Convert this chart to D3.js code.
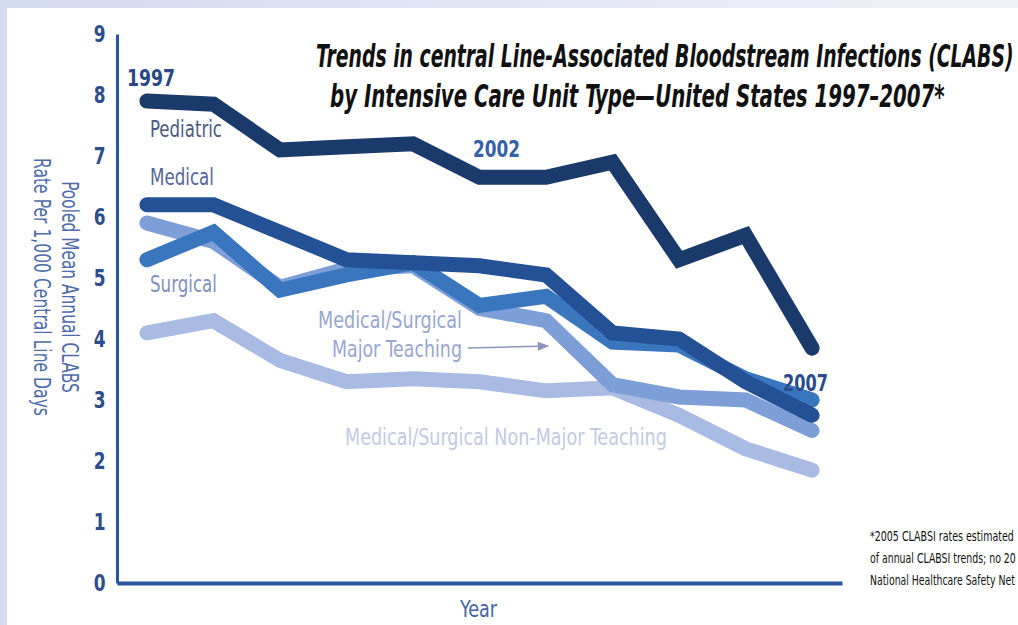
<!DOCTYPE html>
<html>
<head>
<meta charset="utf-8">
<script src="https://cdn.jsdelivr.net/npm/d3@7"></script>
<style>
  body { margin: 0; background: #ffffff; }
  svg { display: block; }
  .narrow { font-family: "Liberation Sans Narrow", "DejaVu Sans Condensed", "Roboto", sans-serif; }
</style>
</head>
<body>
<div id="chart"></div>
<script>
const years = [1997, 1998, 1999, 2000, 2001, 2002, 2003, 2004, 2005, 2006, 2007];
const pediatric = [7.9, 7.85, 7.1, 7.15, 7.2, 6.65, 6.65, 6.9, 5.3, 5.7, 3.85];
const medical = [6.2, 6.2, 5.75, 5.3, 5.25, 5.2, 5.05, 4.1, 4.0, 3.3, 2.75];
const surgical = [5.3, 5.75, 4.8, 5.05, 5.25, 4.55, 4.7, 3.95, 3.9, 3.35, 3.0];
const majorTeaching = [5.9, 5.6, 4.85, 5.15, 5.2, 4.5, 4.3, 3.25, 3.05, 3.0, 2.5];
const nonMajorTeaching = [4.1, 4.3, 3.65, 3.3, 3.35, 3.3, 3.15, 3.2, 2.75, 2.2, 1.85];
const yTicks = [0, 1, 2, 3, 4, 5, 6, 7, 8, 9];

const series = [
    { name: "Medical/Surgical Non-Major Teaching", values: nonMajorTeaching, color: "#a9bbe2" },
    { name: "Medical/Surgical Major Teaching", values: majorTeaching, color: "#7e9ed8" },
    { name: "Surgical", values: surgical, color: "#3a76be" },
    { name: "Medical", values: medical, color: "#245195" },
    { name: "Pediatric", values: pediatric, color: "#1b3a6c" }
];

const W = 1018, H = 625;
const margin = { top: 34, right: 176, bottom: 42, left: 117 };

const svg = d3.select("#chart")
    .append("svg")
    .attr("width", W)
    .attr("height", H);

// squeeze a text horizontally so it spans the given width (the source uses a condensed face)
function fitWidth(sel, width) {
    sel.each(function() {
        const w = this.getComputedTextLength();
        const x0 = +this.getAttribute("x") || 0;
        const y0 = +this.getAttribute("y") || 0;
        const anchor = this.getAttribute("text-anchor");
        d3.select(this).attr("transform",
            `translate(${x0},${y0}) scale(${width / w},1) translate(${-x0},${-y0})`);
    });
}

// frame: lavender strips on top and left
const defs = svg.append("defs");
const grad = defs.append("linearGradient")
    .attr("id", "topband").attr("x1", "0").attr("x2", "1");
grad.append("stop").attr("offset", "0").attr("stop-color", "#d3d9ef");
grad.append("stop").attr("offset", "1").attr("stop-color", "#f1f2f8");
svg.append("rect").attr("x", 0).attr("y", 0).attr("width", W).attr("height", 8).attr("fill", "url(#topband)");
svg.append("rect").attr("x", 0).attr("y", 0).attr("width", 7).attr("height", H).attr("fill", "#d5dbf0");

const x = d3.scaleLinear()
    .domain([1996.55, 2007.45])
    .range([margin.left, W - margin.right]);

const y = d3.scaleLinear()
    .domain([0, 9])
    .range([H - margin.bottom, margin.top]);

// axes
const yAxis = svg.append("g")
    .attr("transform", `translate(${margin.left},0)`)
    .call(d3.axisLeft(y).tickValues(yTicks).tickSize(0).tickPadding(14));
yAxis.select(".domain").attr("stroke", "#2a55a0").attr("stroke-width", 3);
yAxis.selectAll("text")
    .attr("class", "narrow")
    .attr("font-size", 23)
    .attr("font-weight", "bold")
    .attr("fill", "#2d4e8c")
    .attr("transform", "scale(0.82,1)");

const xAxis = svg.append("g")
    .attr("transform", `translate(0,${H - margin.bottom})`)
    .call(d3.axisBottom(x).tickValues([]).tickSizeOuter(0));
xAxis.select(".domain").attr("stroke", "#2a55a0").attr("stroke-width", 4);

// lines
const line = d3.line()
    .x((d, i) => x(years[i]))
    .y(d => y(d));

svg.selectAll(".series")
    .data(series)
    .enter().append("path")
    .attr("class", "series")
    .attr("d", d => line(d.values))
    .attr("fill", "none")
    .attr("stroke", d => d.color)
    .attr("stroke-width", 15)
    .attr("stroke-linejoin", "miter")
    .attr("stroke-linecap", "round");

// axis titles (rotated, reading downwards)
const yTitles = [
    { text: "Pooled Mean Annual CLABS", cx: 62, width: 212 },
    { text: "Rate Per 1,000 Central Line Days", cx: 34, width: 258 }
];
svg.selectAll(".ytitle")
    .data(yTitles)
    .enter().append("text")
    .attr("class", "ytitle narrow")
    .attr("text-anchor", "middle")
    .attr("fill", "#4f6dab")
    .attr("font-size", 23)
    .text(d => d.text)
    .each(function(d) {
        const s = d.width / this.getComputedTextLength();
        d3.select(this).attr("transform", `translate(${d.cx},287) rotate(90) scale(${s},1)`);
    });

svg.append("text")
    .attr("class", "narrow")
    .attr("x", 460).attr("y", 617)
    .attr("fill", "#4565a6")
    .attr("font-size", 23)
    .text("Year")
    .call(fitWidth, 37);

// year callouts
const callouts = [
    { text: "1997", x: 127, y: 86, w: 48, color: "#27498a" },
    { text: "2002", x: 473, y: 157, w: 47, color: "#3561a8" },
    { text: "2007", x: 783, y: 391, w: 45, color: "#2a4c8e" }
];
svg.selectAll(".callout")
    .data(callouts)
    .enter().append("text")
    .attr("class", "callout narrow")
    .attr("x", d => d.x).attr("y", d => d.y)
    .attr("fill", d => d.color)
    .attr("font-size", 23)
    .attr("font-weight", "bold")
    .text(d => d.text)
    .each(function(d) { fitWidth(d3.select(this), d.w); });

// series labels
const labels = [
    { text: "Pediatric", x: 150, y: 137, w: 72, color: "#4c5a82" },
    { text: "Medical", x: 150, y: 185, w: 64, color: "#56669a" },
    { text: "Surgical", x: 150, y: 292, w: 67, color: "#8090c0" },
    { text: "Medical/Surgical", x: 318, y: 328, w: 144, color: "#98a6d2" },
    { text: "Major Teaching", x: 332, y: 357, w: 130, color: "#98a6d2" },
    { text: "Medical/Surgical Non-Major Teaching", x: 345, y: 445, w: 322, color: "#c3cae2" }
];
svg.selectAll(".label")
    .data(labels)
    .enter().append("text")
    .attr("class", "label narrow")
    .attr("x", d => d.x).attr("y", d => d.y)
    .attr("fill", d => d.color)
    .attr("font-size", 23)
    .text(d => d.text)
    .each(function(d) { fitWidth(d3.select(this), d.w); });

// arrow to major teaching line
defs.append("marker")
    .attr("id", "arrow")
    .attr("viewBox", "0 0 10 10")
    .attr("refX", 9).attr("refY", 5)
    .attr("markerWidth", 7).attr("markerHeight", 7)
    .attr("orient", "auto")
    .append("path").attr("d", "M0,1L10,5L0,9Z").attr("fill", "#8c95ba");
svg.append("line")
    .attr("x1", 468).attr("y1", 348)
    .attr("x2", 548).attr("y2", 346)
    .attr("stroke", "#8c95ba")
    .attr("stroke-width", 1.6)
    .attr("marker-end", "url(#arrow)");

// title
const titleLines = [
    { text: "Trends in central Line-Associated Bloodstream Infections (CLABS)", x: 316, y: 67, w: 698 },
    { text: "by Intensive Care Unit Type\u2014United States 1997\u20132007*", x: 330, y: 107, w: 615 }
];
svg.selectAll(".title")
    .data(titleLines)
    .enter().append("text")
    .attr("class", "title narrow")
    .attr("x", d => d.x).attr("y", d => d.y)
    .attr("font-size", 32)
    .attr("font-weight", "bold")
    .attr("font-style", "italic")
    .attr("fill", "#111111")
    .text(d => d.text)
    .each(function(d) { fitWidth(d3.select(this), d.w); });

// footnote, cut at the right edge as in the source
const footnote = [
    { text: "*2005 CLABSI rates estimated", w: 144 },
    { text: "of annual CLABSI trends; no 20", w: 146 },
    { text: "National Healthcare Safety Net", w: 145 }
];
svg.selectAll(".foot")
    .data(footnote)
    .enter().append("text")
    .attr("class", "foot narrow")
    .attr("x", 870)
    .attr("y", (d, i) => 541 + i * 22)
    .attr("fill", "#111111")
    .attr("font-size", 14)
    .text(d => d.text)
    .each(function(d) { fitWidth(d3.select(this), d.w); });
</script>
</body>
</html>
